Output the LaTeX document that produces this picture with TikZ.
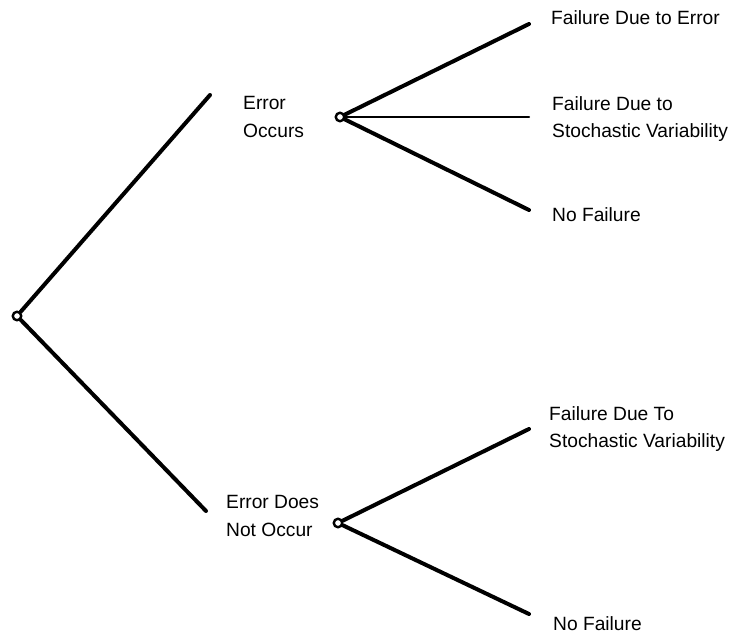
\documentclass[tikz,border=0pt]{standalone}
\usepackage{fontspec}
\setmainfont{Liberation Sans}
\begin{document}
\begin{tikzpicture}[x=1pt,y=-1pt,
  branch/.style={line width=4pt,line cap=round},
  thinbranch/.style={line width=2.2pt,line cap=round},
  chance/.style={circle,draw,line width=2.4pt,minimum size=8.5pt,inner sep=0pt,fill=white},
  lbl/.style={anchor=west,align=left,inner sep=0pt,font=\fontsize{19.2}{27.5}\selectfont}]
\useasboundingbox (0,0) rectangle (732,636);
% chance nodes
\node[chance] (root) at (17,316) {};
\node[chance] (occ) at (340,117) {};
\node[chance] (nocc) at (338,523) {};
% branch ends
\coordinate (e1) at (210,95);
\coordinate (e2) at (206,511);
\coordinate (a1) at (529,24);
\coordinate (a2) at (529,117);
\coordinate (a3) at (529,210);
\coordinate (b1) at (529,429);
\coordinate (b2) at (529,614);
% branches
\draw[branch] (root) -- (e1);
\draw[branch] (root) -- (e2);
\draw[branch] (occ) -- (a1);
\draw[thinbranch] (occ) -- (a2);
\draw[branch] (occ) -- (a3);
\draw[branch] (nocc) -- (b1);
\draw[branch] (nocc) -- (b2);
% labels
\node[lbl] (lo) at (243,117) {Error\\Occurs};
\node[lbl] (ln) at (226,516) {Error Does\\Not Occur};
\node[lbl] (t1) at (551,18) {Failure Due to Error};
\node[lbl] (t2) at (552,119) {Failure Due to\\Stochastic Variability};
\node[lbl] (t3) at (552,215) {No Failure};
\node[lbl] (t4) at (549,429) {Failure Due To\\Stochastic Variability};
\node[lbl] (t5) at (553,624) {No Failure};
\end{tikzpicture}
\end{document}
